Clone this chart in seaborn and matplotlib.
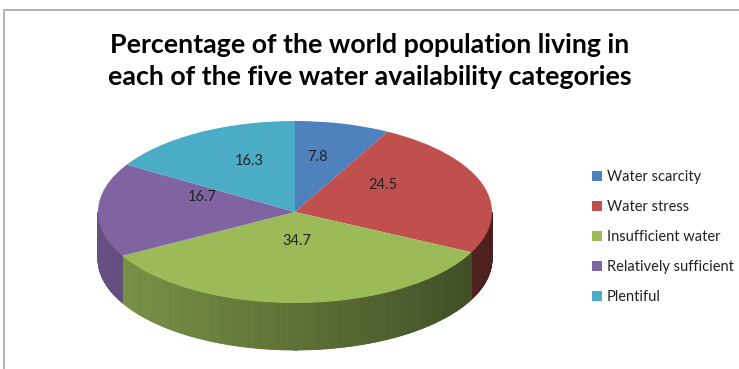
import numpy as np
import matplotlib.pyplot as plt
import matplotlib.colors as mcolors
from matplotlib.patches import Polygon, Patch, Rectangle
import seaborn as sns

# data
categories = ["Water scarcity", "Water stress", "Insufficient water",
              "Relatively sufficient", "Plentiful"]
shares = [7.8, 24.5, 34.7, 16.7, 16.3]
colors = ["#4F81BD", "#C0504D", "#9BBB59", "#8064A2", "#4BACC6"]
title = "Percentage of the world population living in\neach of the five water availability categories"

sns.set_theme(style="white")
plt.rcParams['font.family'] = ['Lato', 'DejaVu Sans']

W, H = 739, 369
fig = plt.figure(figsize=(W / 100, H / 100), dpi=100)
ax = fig.add_axes([0, 0, 1, 1])

# pie geometry (pixels)
cx, cy = 295, 212
rx, ry = 197, 91
depth = 47

wedges, texts, autotexts = ax.pie(
    shares, colors=colors, startangle=90, counterclock=False,
    autopct="%.1f", pctdistance=0.47,
    wedgeprops=dict(linewidth=0), textprops=dict(fontsize=10.5, color="#222222"))
ax.set_aspect('auto')
ax.set_xlim(-cx / rx, (W - cx) / rx)
ax.set_ylim(-(H - cy) / ry, cy / ry)
ax.axis('off')

# labels sit a little higher (perspective of the tilted pie)
for t in autotexts:
    x, y = t.get_position()
    t.set_position((x, y + 0.15))

# side wall of the 3d pie, shaded left->right
dh = depth / ry
cum = np.concatenate([[0], np.cumsum(shares)]) / sum(shares) * 360
for i, col in enumerate(colors):
    start, end = 90 - cum[i], 90 - cum[i + 1]
    lo, hi = max(end, -180), min(start, 0)
    if lo >= hi:
        continue
    ts = np.linspace(lo, hi, max(2, int((hi - lo) * 2)))
    base = np.array(mcolors.to_rgb(col))
    for t1, t2 in zip(ts[:-1], ts[1:]):
        a1, a2 = np.radians(t1), np.radians(t2)
        f = 0.8 - 0.4 * (np.cos((a1 + a2) / 2) + 1) / 2
        c = base * f
        quad = [(np.cos(a1), np.sin(a1)), (np.cos(a2), np.sin(a2)),
                (np.cos(a2), np.sin(a2) - dh), (np.cos(a1), np.sin(a1) - dh)]
        ax.add_patch(Polygon(quad, closed=True, facecolor=c, edgecolor=c,
                             linewidth=0.6, zorder=0))

fig.text(370 / W, 1 - 61 / H, title, ha='center', va='center',
         fontsize=19.3, fontweight='bold', color='black', linespacing=1.4)

handles = [Patch(facecolor=c, edgecolor='none') for c in colors]
fig.legend(handles, categories, loc='upper left',
           bbox_to_anchor=(579 / W, 1 - 157 / H), frameon=False,
           handlelength=0.65, handleheight=0.65, labelspacing=1.1,
           handletextpad=0.35, fontsize=10.5, labelcolor='#222222')

fig.add_artist(Rectangle((4 / W, -0.1), 1.2, 1.1 - 10 / H, transform=fig.transFigure,
                         fill=False, edgecolor='#a6a6a6', linewidth=1.2))

fig.savefig("out.png", dpi=100)
